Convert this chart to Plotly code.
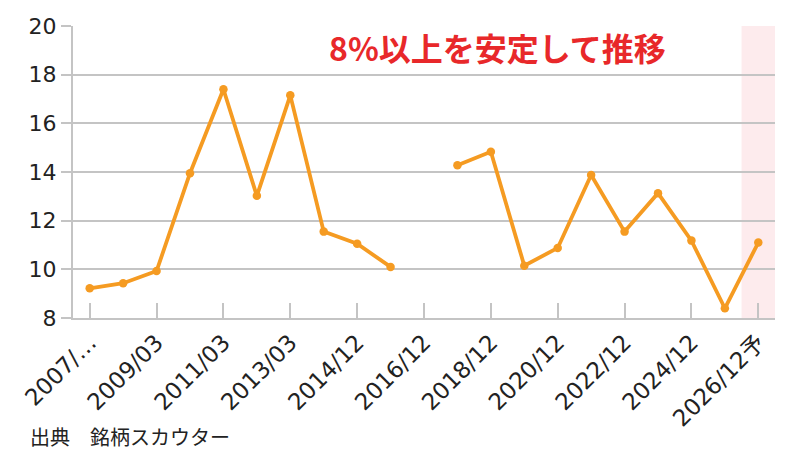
import plotly.graph_objects as go

# 決算期
periods = ["2007/03", "2008/03", "2009/03", "2010/03", "2011/03", "2012/03",
           "2013/03", "2014/03", "2014/12", "2015/12", "2016/12", "2017/12",
           "2018/12", "2019/12", "2020/12", "2021/12", "2022/12", "2023/12",
           "2024/12", "2025/12", "2026/12予"]
# 表示ラベル（1つおき）
tick_labels = ["2007/…", "2009/03", "2011/03", "2013/03", "2014/12", "2016/12",
               "2018/12", "2020/12", "2022/12", "2024/12", "2026/12予"]
values = [9.22, 9.43, 9.93, 13.95, 17.4, 13.02, 17.15, 11.55, 11.05, 10.1,
          None, 14.28, 14.83, 10.15, 10.88, 13.88, 11.55, 13.13, 11.18, 8.4, 11.1]
forecast_period = "2026/12予"

font_family = "DejaVu Sans, Noto Sans CJK JP"
orange = "#f59b22"

fig = go.Figure()
fig.add_trace(go.Scatter(
    x=periods, y=values, mode="lines+markers",
    line=dict(color=orange, width=3.8),
    marker=dict(color=orange, size=8.5),
    connectgaps=False, hoverinfo="skip",
))

# 予想期間の背景
fig.add_vrect(x0=periods.index(forecast_period) - 0.5,
              x1=periods.index(forecast_period) + 0.5,
              fillcolor="#fdebed", line_width=0, layer="below")

fig.add_annotation(text="<b>8%以上を安定して推移</b>", xref="paper", yref="paper",
                   x=0.604, y=0.928, xanchor="center", yanchor="middle",
                   showarrow=False,
                   font=dict(size=32, color="#e8282a", family="Noto Sans CJK JP"))
fig.add_annotation(text="出典　銘柄スカウター", xref="paper", yref="paper",
                   x=-0.064, y=-0.405, xanchor="left", yanchor="middle",
                   showarrow=False,
                   font=dict(size=20, color="#222222", family="Noto Sans CJK JP"))

# ページ本体の余白(8px)を差し引いた余白
fig.update_layout(
    width=800, height=450,
    margin=dict(l=65, r=33, t=18, b=140),
    plot_bgcolor="white", paper_bgcolor="white",
    showlegend=False,
    font=dict(family=font_family, color="#222222"),
    xaxis=dict(
        type="category", range=[-0.5, len(periods) - 0.5],
        tickmode="array", tickvals=periods[::2], ticktext=tick_labels,
        tickangle=-45, tickfont=dict(size=23), automargin=False,
        ticks="inside", ticklen=15, tickcolor="#c4c4c4", tickwidth=2,
        showgrid=False, showline=True, linecolor="#c4c4c4", linewidth=2,
        zeroline=False,
    ),
    yaxis=dict(
        range=[8, 20], dtick=2, tickfont=dict(size=22), automargin=False,
        ticks="outside", ticklen=10, tickcolor="#c4c4c4", tickwidth=2,
        showgrid=True, gridcolor="#c4c4c4", gridwidth=2,
        showline=True, linecolor="#c4c4c4", linewidth=2, zeroline=False,
    ),
)

fig.write_html("out.html")
